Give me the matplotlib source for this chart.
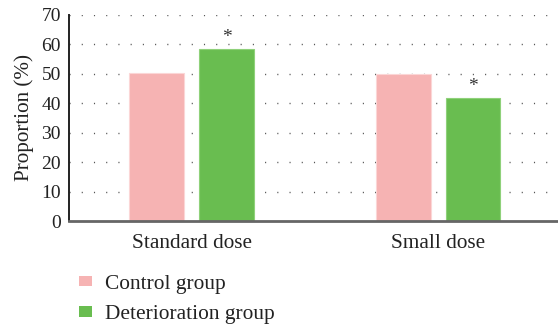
import numpy as np
import matplotlib
matplotlib.use('Agg')
import matplotlib.pyplot as plt
from matplotlib.patches import Patch

plt.rcParams['font.family'] = 'serif'
plt.rcParams['font.serif'] = ['Liberation Serif', 'DejaVu Serif']

# Dados
doses = ['Standard dose', 'Small dose']
controle = [50.3, 49.8]
deterioracao = [58.4, 41.7]
significativo = [True, True]
yticks = [0, 10, 20, 30, 40, 50, 60, 70]

cor_controle = '#f6b3b3'
cor_deter = '#69bd50'

fig = plt.figure(figsize=(5.58, 3.25), dpi=100)
ax = fig.add_axes([0.124, 0.32, 0.876, 0.634])

x = np.arange(len(doses))
larg = 0.223
desloc = 0.142

# Grade pontilhada horizontal
for v in yticks[1:]:
    ax.axhline(v, color='#555555', lw=1.0, dashes=(0.8, 8.0), zorder=0)

ax.bar(x - desloc, controle, width=larg, color=cor_controle,
       edgecolor='#fbd6d6', linewidth=0.8, zorder=2)
ax.bar(x + desloc, deterioracao, width=larg, color=cor_deter,
       edgecolor='#8fd17a', linewidth=0.8, zorder=2)

# Asteriscos de significância
for xi, v, s in zip(x, deterioracao, significativo):
    if s:
        ax.annotate('*', xy=(xi + desloc, v), xytext=(0, 2),
                    textcoords='offset points', ha='center', va='bottom',
                    fontsize=14, color='#333333')

ax.set_xlim(-0.497, 1.487)
ax.set_ylim(0, 70)
ax.set_yticks(yticks)
ax.set_xticks(x)
ax.set_xticklabels(doses)
ax.tick_params(axis='y', length=0, labelsize=14, colors='#222222', pad=6)
ax.tick_params(axis='x', length=0, labelsize=15.3, colors='#222222', pad=9)
ax.set_ylabel('Proportion (%)', fontsize=15.2, color='#222222', labelpad=5)

ax.spines['top'].set_visible(False)
ax.spines['right'].set_visible(False)
ax.spines['left'].set_color('#222222')
ax.spines['left'].set_linewidth(1.4)
ax.spines['bottom'].set_color('#666666')
ax.spines['bottom'].set_linewidth(2.0)

handles = [Patch(facecolor=cor_controle, edgecolor='none', label='Control group'),
           Patch(facecolor=cor_deter, edgecolor='none', label='Deterioration group')]
fig.legend(handles=handles, loc='upper left', bbox_to_anchor=(0.1065, 0.214),
           frameon=False, fontsize=15.4, handlelength=0.6, handleheight=0.4,
           handletextpad=0.65, labelspacing=0.55, labelcolor='#222222')

fig.savefig('out.png', dpi=100, facecolor='white')
plt.close(fig)
